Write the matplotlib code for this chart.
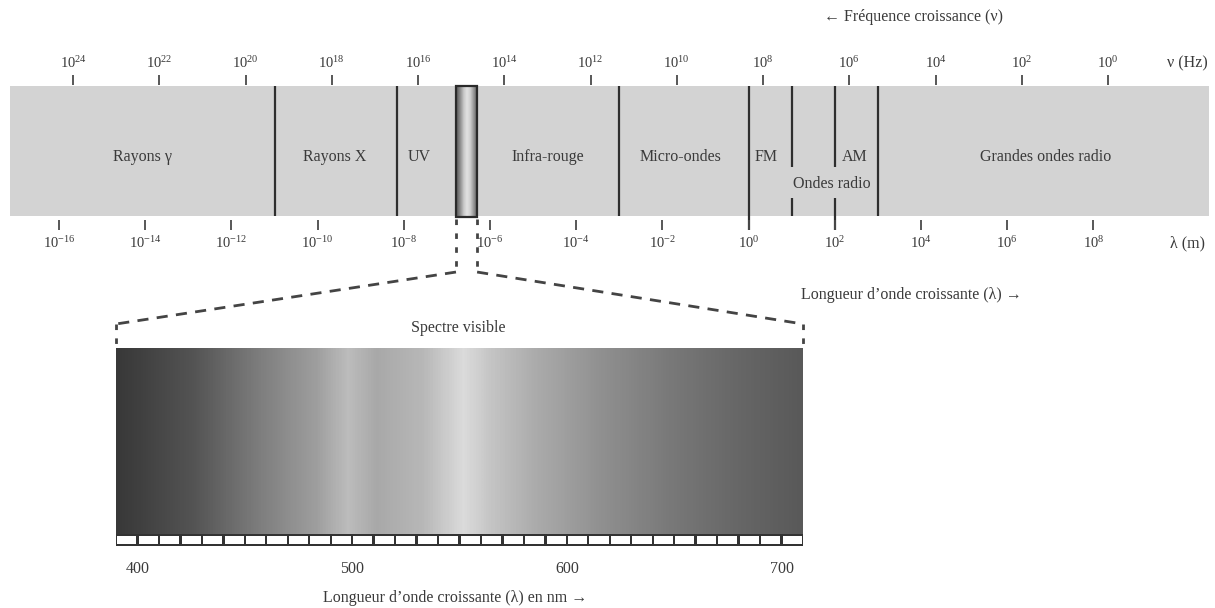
import numpy as np
import matplotlib.pyplot as plt
from matplotlib.colors import LinearSegmentedColormap
from matplotlib.patches import Rectangle

plt.rcParams['font.family'] = ['Liberation Serif', 'DejaVu Serif']
plt.rcParams['mathtext.fontset'] = 'custom'
plt.rcParams['mathtext.rm'] = 'Liberation Serif'

# --- data ---------------------------------------------------------------
wl_exponents = [-16, -14, -12, -10, -8, -6, -4, -2, 0, 2, 4, 6, 8]      # lambda (m)
freq_exponents = [24, 22, 20, 18, 16, 14, 12, 10, 8, 6, 4, 2, 0]       # nu (Hz)
full_bounds = [-11, -8.15, -3, 0, 3]        # log10(lambda) of region limits
split_bounds = [1, 2]                       # limits broken by "Ondes radio"
long_bounds = [0, 2]                        # limits running into the tick row
visible_box = (-6.79, -6.30)
region_names = ['Rayons γ', 'Rayons X', 'UV', 'Infra-rouge', 'Micro-ondes',
                'FM', 'AM', 'Grandes ondes radio']
region_centres = [-14.07, -9.6, -7.65, -4.65, -1.57, 0.4, 2.47, 6.88]
radio_centre = 1.94

vis_ticks = [400, 500, 600, 700]            # nm
vis_range = (390, 710)
square_step = 10
grad_nm = [390, 426, 458, 483, 498, 511, 533, 552, 565, 586, 618, 650, 682, 710]
grad_gray = [0.22, 0.33, 0.50, 0.62, 0.74, 0.66, 0.72, 0.86, 0.77, 0.67, 0.56, 0.47, 0.40, 0.35]
box_shade = [0.40, 0.58, 0.78, 0.88, 0.82, 0.62, 0.42]

W, H = 1215, 608
txt = '#3a3a3a'
fs = 11.5

fig = plt.figure(figsize=(W / 100, H / 100), dpi=100)

# main band, x = log10(lambda)
ax = fig.add_axes([10 / W, 1 - 216 / H, 1199 / W, 130 / H])
ax.set_xlim(-17.137, 10.68)
ax.set_ylim(0, 1)
ax.set_facecolor('#d3d3d3')
ax.set_xticks([])
ax.set_yticks([])
for s in ax.spines.values():
    s.set_visible(False)

lc = '#2e2e2e'
for b in full_bounds:
    low = -0.108 if b in long_bounds else 0
    ax.vlines(b, low, 1, color=lc, lw=1.6, clip_on=False)
for b in split_bounds:
    low = -0.108 if b in long_bounds else 0
    ax.vlines(b, 0.377, 1, color=lc, lw=1.6)
    ax.vlines(b, low, 0.138, color=lc, lw=1.6, clip_on=False)

for name, c in zip(region_names, region_centres):
    ax.text(c, 0.454, name, ha='center', va='center', fontsize=fs, color=txt)
ax.text(radio_centre, 0.246, 'Ondes radio', ha='center', va='center', fontsize=fs, color=txt)

# wavelength ticks
ax.vlines(wl_exponents, -0.031, -0.108, color='#4a4a4a', lw=1.3, clip_on=False)
for e in wl_exponents:
    ax.text(e, -0.208, r'$\mathregular{10^{%d}}$' % e, ha='center', va='center',
            fontsize=10.5, color=txt, clip_on=False)

# visible window in the band
ax.imshow(np.array(box_shade)[None, :], cmap='gray', vmin=0, vmax=1,
          extent=(visible_box[0], visible_box[1], -0.008, 1.0), aspect='auto',
          interpolation='bilinear', zorder=3, clip_on=False)
ax.add_patch(Rectangle((visible_box[0], -0.008), visible_box[1] - visible_box[0], 1.008,
                       fill=False, ec='#2a2a2a', lw=1.6, zorder=4, clip_on=False))
ax.set_xlim(-17.137, 10.68)
ax.set_ylim(0, 1)

# frequency scale on top
axf = ax.twiny()
axf.set_xlim(25.461, -2.342)
axf.axis('off')
axf.vlines(freq_exponents, 1.008, 1.085, color='#4a4a4a', lw=1.3, clip_on=False)
for e in freq_exponents:
    axf.text(e, 1.177, r'$\mathregular{10^{%d}}$' % e, ha='center', va='center',
             fontsize=10.5, color=txt, clip_on=False)

# visible spectrum
axv = fig.add_axes([116 / W, 1 - 546 / H, 687 / W, 198 / H])
axv.set_xlim(*vis_range)
axv.set_ylim(0, 1)
axv.axis('off')
strip = 12 / 198
pos = [(n - vis_range[0]) / (vis_range[1] - vis_range[0]) for n in grad_nm]
cmap = LinearSegmentedColormap.from_list('vis', [(p, (g, g, g)) for p, g in zip(pos, grad_gray)])
axv.imshow(np.linspace(0, 1, 800)[None, :], cmap=cmap, vmin=0, vmax=1,
           extent=(vis_range[0], vis_range[1], strip, 1), aspect='auto')
axv.add_patch(Rectangle((vis_range[0], 0), vis_range[1] - vis_range[0], strip,
                        fc='#333333', ec='none'))
for n in range(vis_range[0], vis_range[1], square_step):
    axv.add_patch(Rectangle((n + 0.55, 0.008), square_step - 1.1, 0.045, fc='white', ec='none'))
axv.set_xlim(*vis_range)
axv.set_ylim(0, 1)
for t in vis_ticks:
    axv.text(t, -0.116, str(t), ha='center', va='center', fontsize=fs, color=txt, clip_on=False)

# overlay in pixel units for free text and the dashed connector
ov = fig.add_axes([0, 0, 1, 1])
ov.set_xlim(0, W)
ov.set_ylim(H, 0)
ov.axis('off')


def to_px(trans, pt):
    x, y = trans.transform(pt)
    return x, H - y


bl = to_px(ax.transData, (visible_box[0], -0.008))
br = to_px(ax.transData, (visible_box[1], -0.008))
vl = to_px(axv.transAxes, (0, 1))
vr = to_px(axv.transAxes, (1, 1))
knee = 55
drop = 24
dash_kw = dict(color='#444444', lw=2.0)
ov.plot([bl[0], bl[0]], [bl[1] + 2, bl[1] + knee], ls=(0, (2, 3)), **dash_kw)
ov.plot([br[0], br[0]], [br[1] + 2, br[1] + knee], ls=(0, (2, 3)), **dash_kw)
ov.plot([bl[0], vl[0]], [bl[1] + knee, vl[1] - drop], ls=(0, (4, 3)), **dash_kw)
ov.plot([br[0], vr[0]], [br[1] + knee, vr[1] - drop], ls=(0, (4, 3)), **dash_kw)
ov.plot([vl[0], vl[0]], [vl[1] - drop, vl[1]], ls=(0, (2, 3)), **dash_kw)
ov.plot([vr[0], vr[0]], [vr[1] - drop, vr[1]], ls=(0, (2, 3)), **dash_kw)

ov.text(913, 17, '← Fréquence croissance (ν)', ha='center', va='center', fontsize=fs, color=txt)
ov.text(1187, 63, 'ν (Hz)', ha='center', va='center', fontsize=fs, color=txt)
ov.text(1187, 243, 'λ (m)', ha='center', va='center', fontsize=fs, color=txt)
ov.text(911, 295, 'Longueur d’onde croissante (λ) →', ha='center', va='center',
        fontsize=fs, color=txt)
ov.text(458, 328, 'Spectre visible', ha='center', va='center', fontsize=fs, color=txt)
ov.text(455, 598, 'Longueur d’onde croissante (λ) en nm →', ha='center', va='center',
        fontsize=fs, color=txt)

fig.savefig('out.png', dpi=100)
